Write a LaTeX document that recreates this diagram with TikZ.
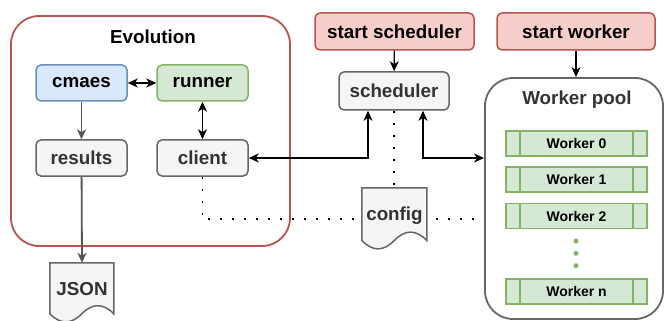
\documentclass[tikz,border=0pt]{standalone}
\usepackage{fontspec}
\setmainfont{Liberation Sans}
\usetikzlibrary{arrows.meta}
\definecolor{bluefill}{HTML}{DAE8FC}
\definecolor{bluedraw}{HTML}{6C8EBF}
\definecolor{greenfill}{HTML}{D5E8D4}
\definecolor{greendraw}{HTML}{82B366}
\definecolor{redfill}{HTML}{F8CECC}
\definecolor{reddraw}{HTML}{B85450}
\definecolor{grayfill}{HTML}{F5F5F5}
\definecolor{graydraw}{HTML}{666666}
\definecolor{graytext}{HTML}{333333}
\definecolor{grayline}{HTML}{555555}
\pgfdeclarelayer{back}
\pgfdeclarelayer{mid}
\pgfsetlayers{back,mid,main}
\begin{document}
\begin{tikzpicture}[x=1pt,y=-1pt,
  big/.style={font=\fontsize{18.8}{22}\selectfont\bfseries},
  box/.style={big, rounded corners=5pt, line width=1.5pt, minimum width=91pt, minimum height=36pt, inner sep=0pt},
  bluebox/.style={box, fill=bluefill, draw=bluedraw},
  greenbox/.style={box, fill=greenfill, draw=greendraw},
  graybox/.style={box, fill=grayfill, draw=graydraw, text=graytext},
  redbox/.style={box, fill=redfill, draw=reddraw, minimum width=158pt, minimum height=37pt},
  container/.style={rounded corners=28pt, line width=1.8pt, fill=white, inner sep=0pt},
  worker/.style={font=\fontsize{14}{16}\selectfont\bfseries, fill=greenfill, draw=greendraw, line width=1.6pt, minimum width=141pt, minimum height=25pt, inner sep=0pt},
  wline/.style={draw=greendraw, line width=1.6pt},
  doctext/.style={big, text=graytext, inner sep=0pt},
  docstyle/.style={fill=grayfill, draw=graydraw, line width=1.5pt},
  arr/.style={line width=1.2pt, -{Stealth[length=10pt,width=9pt,inset=3pt]}},
  biarr/.style={line width=1.2pt, {Stealth[length=10pt,width=9pt,inset=3pt]}-{Stealth[length=10pt,width=9pt,inset=3pt]}},
  grayarr/.style={line width=1.8pt, grayline, -{Stealth[length=10pt,width=9pt,inset=3pt]}},
  dotline/.style={line width=1.8pt, dash pattern=on 1.8pt off 10.2pt},
  gdot/.style={fill=greendraw, draw=none}
]
\useasboundingbox (0,0) rectangle (665,321);

% containers
\begin{pgfonlayer}{back}
  \node[container, draw=reddraw, minimum width=279pt, minimum height=230pt] (evo) at (150.5,131) {};
  \node[container, draw=graydraw, minimum width=178pt, minimum height=241pt] (pool) at (574,198.5) {};
\end{pgfonlayer}

\node[big] (evotitle) at (153,37) {Evolution};
\node[big, text=graytext] (pooltitle) at (577,100) {Worker pool};

% evolution boxes
\node[bluebox] (cmaes) at (81.5,83) {cmaes};
\node[greenbox] (runner) at (202.5,83) {runner};
\node[graybox] (results) at (81.5,158) {results};
\node[graybox] (client) at (202.5,158) {client};

% scheduler side
\node[redbox, minimum width=159pt] (startsched) at (394.5,31.5) {start scheduler};
\node[redbox] (startworker) at (576,31.5) {start worker};
\node[graybox, minimum width=110pt, minimum height=38pt] (scheduler) at (394,91) {scheduler};

% workers
\node[worker] (w0) at (576.5,143.5) {Worker 0};
\node[worker] (w1) at (576.5,179.5) {Worker 1};
\node[worker] (w2) at (576.5,216) {Worker 2};
\node[worker] (wn) at (576.5,291.5) {Worker n};
\foreach \w in {w0,w1,w2,wn}{
  \draw[wline] ([xshift=15pt]\w.north west) -- ([xshift=15pt]\w.south west);
  \draw[wline] ([xshift=-15pt]\w.north east) -- ([xshift=-15pt]\w.south east);
}
\fill[gdot] (576,241) circle (2.5pt);
\fill[gdot] (576,253.3) circle (2.5pt);
\fill[gdot] (576,265.7) circle (2.5pt);

% documents (text)
\node[doctext, minimum width=65pt, minimum height=56pt] (config) at (394.5,216) {config};
\node[doctext, minimum width=64pt, minimum height=52pt] (json) at (82,289) {JSON};

\coordinate (doty) at (0,219);
\begin{pgfonlayer}{mid}
  \draw[dotline] (scheduler.south) -- (scheduler.south |- config.north);
  \draw[dotline] (client.south) |- (doty -| pool.west);
  \begin{scope}[shift={(config.north west)}]
    \draw[docstyle] (0,0) -- (65,0) -- (65,52.7)
      .. controls (54.17,41.54) and (43.33,41.54) .. (32.5,52.7)
      .. controls (21.67,63.86) and (10.83,63.86) .. (0,52.7) -- cycle;
  \end{scope}
  \begin{scope}[shift={(json.north west)}]
    \draw[docstyle] (0,0) -- (64,0) -- (64,51)
      .. controls (53.33,40.2) and (42.67,40.2) .. (32,51)
      .. controls (21.33,61.8) and (10.67,61.8) .. (0,51) -- cycle;
  \end{scope}
\end{pgfonlayer}

% connectors
\draw[biarr] (cmaes) -- (runner);
\draw[biarr] (runner) -- (client);
\draw[grayarr] (cmaes) -- (results);
\draw[grayarr] (results) -- (json.north);
\draw[arr] (startsched) -- (scheduler);
\draw[arr] (startworker.south) -- (startworker.south |- pool.north);
\draw[biarr] (client.east) -| ([xshift=-26pt]scheduler.south);
\draw[biarr] ([xshift=29pt]scheduler.south) |- (pool.west |- client.east);
\end{tikzpicture}
\end{document}
